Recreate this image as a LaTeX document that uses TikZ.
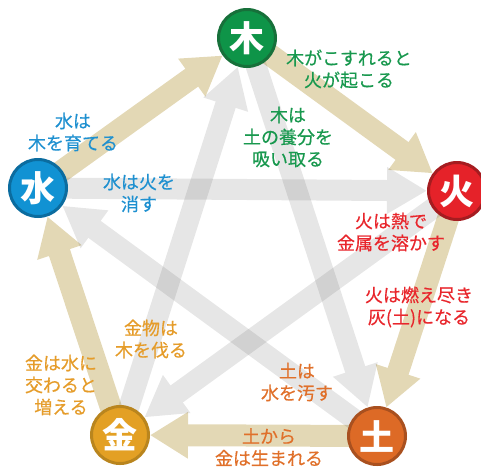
\documentclass[tikz,border=0pt]{standalone}
\usepackage{fontspec}
\usetikzlibrary{arrows.meta}
\newfontfamily\cjk{Noto Sans CJK JP}
\newfontfamily\cjklbl[FakeBold=0.5]{Noto Sans CJK JP}

\definecolor{bandtan}{HTML}{E3D8B5}
\definecolor{woodfill}{HTML}{0E9448}\definecolor{woodring}{HTML}{17703A}
\definecolor{firefill}{HTML}{E52229}\definecolor{firering}{HTML}{A51C20}
\definecolor{earthfill}{HTML}{DD6A26}\definecolor{earthring}{HTML}{A9501F}
\definecolor{metalfill}{HTML}{E3A024}\definecolor{metalring}{HTML}{B9851E}
\definecolor{waterfill}{HTML}{1192D3}\definecolor{waterring}{HTML}{0B6C9F}
\definecolor{woodtxt}{HTML}{18984E}
\definecolor{firetxt}{HTML}{E8262C}
\definecolor{earthtxt}{HTML}{E0702A}
\definecolor{metaltxt}{HTML}{E59C2A}
\definecolor{watertxt}{HTML}{1E90D0}

\pgfdeclarelayer{bands}
\pgfsetlayers{bands,main}

\tikzset{
  elem/.style={circle, minimum size=57pt, inner sep=0pt, line width=3pt,
    text=white, font=\cjk\bfseries\fontsize{35}{35}\selectfont},
  gen/.style={draw=bandtan, line width=22pt, -{Triangle[width=44pt,length=38pt]}},
  ctl/.style={draw=black!80, line width=21pt, -{Triangle[width=44pt,length=40pt]}},
  lbl/.style={align=center, inner sep=0pt, font=\cjklbl\fontsize{18}{22}\selectfont},
}

\begin{document}
\begin{tikzpicture}[x=1pt,y=-1pt]
  \useasboundingbox (0,0) rectangle (481,469);

  % the five elements
  \node[elem, fill=woodfill, draw=woodring] (moku) at (247,38) {木};
  \node[elem, fill=firefill, draw=firering] (ka) at (457,191) {火};
  \node[elem, fill=earthfill, draw=earthring] (do) at (377,436) {土};
  \node[elem, fill=metalfill, draw=metalring] (kin) at (120,435) {金};
  \node[elem, fill=waterfill, draw=waterring] (sui) at (38,188) {水};

  \begin{pgfonlayer}{bands}
    % generating cycle
    \draw[gen] (sui.center) -- (moku);
    \draw[gen] (moku.center) -- (ka);
    \draw[gen] (ka.center) -- (do);
    \draw[gen] (do.center) -- (kin);
    \draw[gen] (kin.center) -- (sui);
    % overcoming star
    \foreach \a/\b in {moku/do, do/sui, sui/ka, ka/kin, kin/moku}
    {
      \begin{scope}[transparency group, opacity=0.12]
        \draw[ctl] (\a.center) -- (\b);
      \end{scope}
    }
  \end{pgfonlayer}

  % labels
  \node[lbl, text=woodtxt] (l1) at (349,69) {木がこすれると\\火が起こる};
  \node[lbl, text=woodtxt] (l2) at (288,137) {木は\\土の養分を\\吸い取る};
  \node[lbl, text=watertxt] (l3) at (73,132) {水は\\木を育てる};
  \node[lbl, text=watertxt] (l4) at (139,193) {水は火を\\消す};
  \node[lbl, text=firetxt] (l5) at (391,232) {火は熱で\\金属を溶かす};
  \node[lbl, text=firetxt] (l6) at (419,307) {火は燃え尽き\\灰(土)になる};
  \node[lbl, text=metaltxt] (l7) at (61,385) {金は水に\\交わると\\増える};
  \node[lbl, text=metaltxt] (l8) at (151,339) {金物は\\木を伐る};
  \node[lbl, text=earthtxt] (l9) at (297,382) {土は\\水を汚す};
  \node[lbl, text=earthtxt] (l10) at (269,447) {土から\\金は生まれる};
\end{tikzpicture}
\end{document}
